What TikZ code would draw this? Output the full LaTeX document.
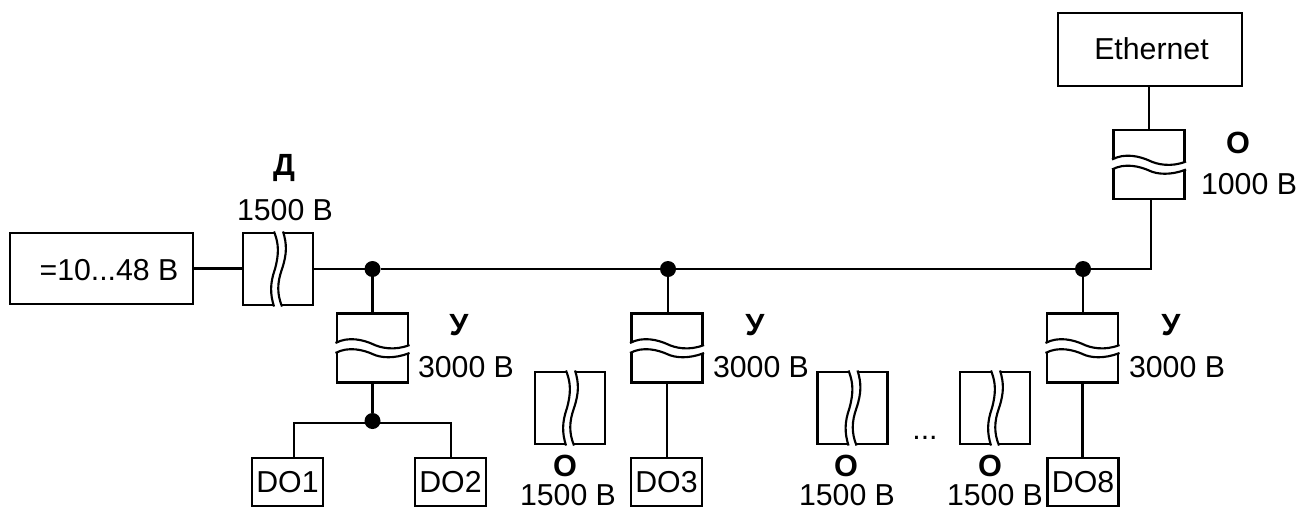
\documentclass[tikz,border=0pt]{standalone}
\usepackage{fontspec}
\setmainfont{Liberation Sans}
\newcommand{\hwavepath}{(-37,-5) .. controls (-24,-12) and (-9,-8) .. (0,-4) .. controls (8,0) and (22,3) .. (37,-3)}
\newcommand{\hwaveback}{(37,5) .. controls (22,11) and (8,10) .. (0,6) .. controls (-9,2) and (-24,-2) .. (-37,5)}
\newcommand{\hwavelow}{(-37,5) .. controls (-24,-2) and (-9,2) .. (0,6) .. controls (8,10) and (22,11) .. (37,5)}
\newcommand{\vwavepath}{(-4,-37.5) .. controls (1,-25) and (1,-15) .. (-3,0) .. controls (-8,14) and (-8,25) .. (-4,37.5)}
\newcommand{\vwaveback}{(4,37.5) .. controls (-1,25) and (-1,14) .. (4,0) .. controls (9,-15) and (9,-25) .. (5,-37.5)}
\newcommand{\vwavelow}{(5,-37.5) .. controls (9,-25) and (9,-15) .. (4,0) .. controls (-1,14) and (-1,25) .. (4,37.5)}
\newcommand{\hbreak}[1]{\begin{scope}[shift={(#1.center)}]
  \fill[white] \hwavepath -- \hwaveback -- cycle;
  \draw[wave] \hwavepath; \draw[wave] \hwavelow;
\end{scope}}
\newcommand{\vbreak}[1]{\begin{scope}[shift={(#1.center)}]
  \fill[white] \vwavepath -- \vwaveback -- cycle;
  \draw[wave] \vwavepath; \draw[wave] \vwavelow;
\end{scope}}
\tikzset{
  box/.style={draw=black,line width=1.9pt,inner sep=0pt,outer sep=0pt,font=\fontsize{22.7pt}{25pt}\selectfont},
  hiso/.style={box,minimum width=71*0.75pt,minimum height=69*0.75pt},
  viso/.style={box,minimum width=70*0.75pt,minimum height=72*0.75pt},
  dobox/.style={box,minimum width=71*0.75pt,minimum height=48*0.75pt},
  wave/.style={line width=1.6pt,black},
  wire/.style={line width=1.9pt,black},
  dot/.style={circle,fill=black,inner sep=0pt,outer sep=0pt,minimum size=16*0.75pt},
  lab/.style={inner sep=0pt,font=\fontsize{22.7pt}{25pt}\selectfont},
  blab/.style={inner sep=0pt,font=\fontsize{23pt}{25pt}\selectfont\bfseries}
}
\begin{document}
\begin{tikzpicture}[x=0.75pt,y=-0.75pt]
\useasboundingbox (0,0) rectangle (1298,511);
% main boxes
\node[box,minimum width=183*0.75pt,minimum height=71*0.75pt] (src) at (101.5,268.5) {};
\node[lab] (srct) at (109,270) {=10...48 В};
\node[box,minimum width=184*0.75pt,minimum height=73*0.75pt] (eth) at (1150,49.5) {};
\node[lab] (etht) at (1151.5,49) {Ethernet};
% isolators
\node[viso] (D) at (278,269) {};
\node[hiso] (U1) at (372.5,348) {};
\node[hiso] (U2) at (667,348) {};
\node[hiso] (U3) at (1082.5,348) {};
\node[hiso] (O0) at (1149,164.5) {};
\node[viso] (O1) at (570,408) {};
\node[viso] (O2) at (852.5,408) {};
\node[viso] (O3) at (995,408) {};
\hbreak{U1}\hbreak{U2}\hbreak{U3}\hbreak{O0}
\vbreak{D}\vbreak{O1}\vbreak{O2}\vbreak{O3}
% DO boxes
\node[dobox] (DO1) at (287.5,482) {DO1};
\node[dobox] (DO2) at (450.5,482) {DO2};
\node[dobox] (DO3) at (666.5,482) {DO3};
\node[dobox] (DO8) at (1083,482) {DO8};
% junctions
\node[dot] (j1) at (372.5,269) {};
\node[dot] (j2) at (668,269) {};
\node[dot] (j3) at (1083,269) {};
\node[dot] (j4) at (372.5,421) {};
\coordinate (corner) at (1151,269);
\coordinate (ob) at (1151,199);
\coordinate (t1) at (294,458);
\coordinate (t1up) at (294,423);
\coordinate (t2) at (451,458);
\coordinate (t2up) at (451,423);
% wires
\draw[wire] (src.east) -- (src.east -| D.west);
\draw[wire] (D.east) -- (j1) -- (j2) -- (j3) -- (corner) -- (ob);
\draw[wire] (eth.south -| O0.north) -- (O0.north);
\draw[wire] (j1) -- (U1.north);
\draw[wire] (j2) -- (j2 |- U2.north);
\draw[wire] (j3) -- (j3 |- U3.north);
\draw[wire] (U1.south) -- (j4);
\draw[wire] (t1) -- (t1up) -- (t2up) -- (t2);
\draw[wire] (U2.south) -- (U2.south |- DO3.north);
\draw[wire] (U3.south) -- (U3.south |- DO8.north);
% labels
\node[blab] (lD) at (284,168) {Д};
\node[lab] (vD) at (285,210) {1500 В};
\node[blab] (lU1) at (459,325) {У};
\node[lab] (vU1) at (466,367) {3000 В};
\node[blab] (lU2) at (755,325) {У};
\node[lab] (vU2) at (761,367) {3000 В};
\node[blab] (lU3) at (1171,325) {У};
\node[lab] (vU3) at (1177,367) {3000 В};
\node[blab] (lO0) at (1238,143) {О};
\node[lab] (vO0) at (1249,184) {1000 В};
\node[blab] (lO1) at (565,466) {О};
\node[lab] (vO1) at (568,495) {1500 В};
\node[blab] (lO2) at (846,466) {О};
\node[lab] (vO2) at (847,495) {1500 В};
\node[blab] (lO3) at (990,466) {О};
\node[lab] (vO3) at (995,495) {1500 В};
\node[lab] (dots) at (925,438) {...};
\end{tikzpicture}
\end{document}
